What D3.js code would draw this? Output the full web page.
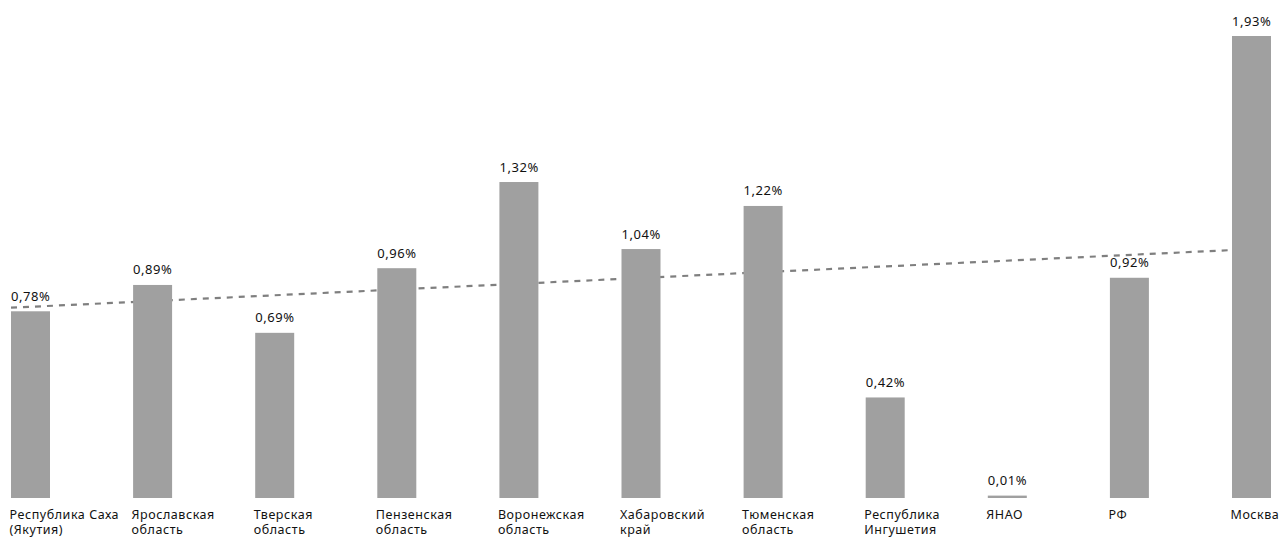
<!DOCTYPE html>
<html>
<head>
<meta charset="utf-8">
<script src="https://cdn.jsdelivr.net/npm/d3@7"></script>
<style>
  html, body { margin: 0; padding: 0; background: #ffffff; }
  svg { display: block; }
  text { font-family: "Noto Sans", "Open Sans", sans-serif; fill: #111111; letter-spacing: 0.55px; }
</style>
</head>
<body>
<svg id="chart" width="1284" height="538"></svg>
<script>
// Regions (two-line labels) and their shares, %
const regionLines = [
  ["Республика Саха", "(Якутия)"],
  ["Ярославская", "область"],
  ["Тверская", "область"],
  ["Пензенская", "область"],
  ["Воронежская", "область"],
  ["Хабаровский", "край"],
  ["Тюменская", "область"],
  ["Республика", "Ингушетия"],
  ["ЯНАО"],
  ["РФ"],
  ["Москва"]
];
const shares = [0.78, 0.89, 0.69, 0.96, 1.32, 1.04, 1.22, 0.42, 0.01, 0.92, 1.93];
const valueLabels = ["0,78%", "0,89%", "0,69%", "0,96%", "1,32%", "1,04%", "1,22%", "0,42%", "0,01%", "0,92%", "1,93%"];

const keys = regionLines.map(d => d.join(" "));

const svg = d3.select("#chart");

const x = d3.scaleBand()
  .domain(keys)
  .range([11, 1271])
  .paddingInner(0.6806)
  .paddingOuter(0);

const y = d3.scaleLinear()
  .domain([0, 1.93])
  .range([498, 36]);

// Linear trend across the categories (least squares on index)
const n = shares.length;
const meanI = (n - 1) / 2;
const meanV = d3.mean(shares);
const slope = d3.sum(shares, (v, i) => (i - meanI) * (v - meanV)) /
              d3.sum(shares, (v, i) => (i - meanI) * (i - meanI));
const trendAt = i => meanV + slope * (i - meanI);

const xCenter = i => x(keys[i]) + x.bandwidth() / 2;
const step = x.step();
const trendPts = [
  [xCenter(0) - x.bandwidth() / 2, trendAt(0 - (x.bandwidth() / 2) / step)],
  [xCenter(n - 1), trendAt(n - 1)]
];

svg.append("path")
  .attr("d", d3.line().x(d => d[0]).y(d => y(d[1]) + 1.5)(trendPts))
  .attr("fill", "none")
  .attr("stroke", "#7f7f7f")
  .attr("stroke-width", 2.2)
  .attr("stroke-dasharray", "6,6");

// Bars
svg.append("g").selectAll("rect")
  .data(shares)
  .join("rect")
  .attr("x", (d, i) => x(keys[i]))
  .attr("y", d => y(d))
  .attr("width", x.bandwidth())
  .attr("height", d => y(0) - y(d))
  .attr("fill", "#a0a0a0");

// Value labels above bars
svg.append("g").selectAll("text")
  .data(shares)
  .join("text")
  .attr("x", (d, i) => x(keys[i]))
  .attr("y", d => y(d) - 10.5)
  .attr("font-size", 13)
  .text((d, i) => valueLabels[i]);

// Category labels below the baseline
const cat = svg.append("g").selectAll("text")
  .data(regionLines)
  .join("text")
  .attr("x", (d, i) => x(keys[i]) - 1.5)
  .attr("y", 519)
  .attr("font-size", 12.5);

cat.selectAll("tspan")
  .data(d => d)
  .join("tspan")
  .attr("x", function() { return d3.select(this.parentNode).attr("x"); })
  .attr("dy", (d, j) => j === 0 ? 0 : 15)
  .text(d => d);
</script>
</body>
</html>
